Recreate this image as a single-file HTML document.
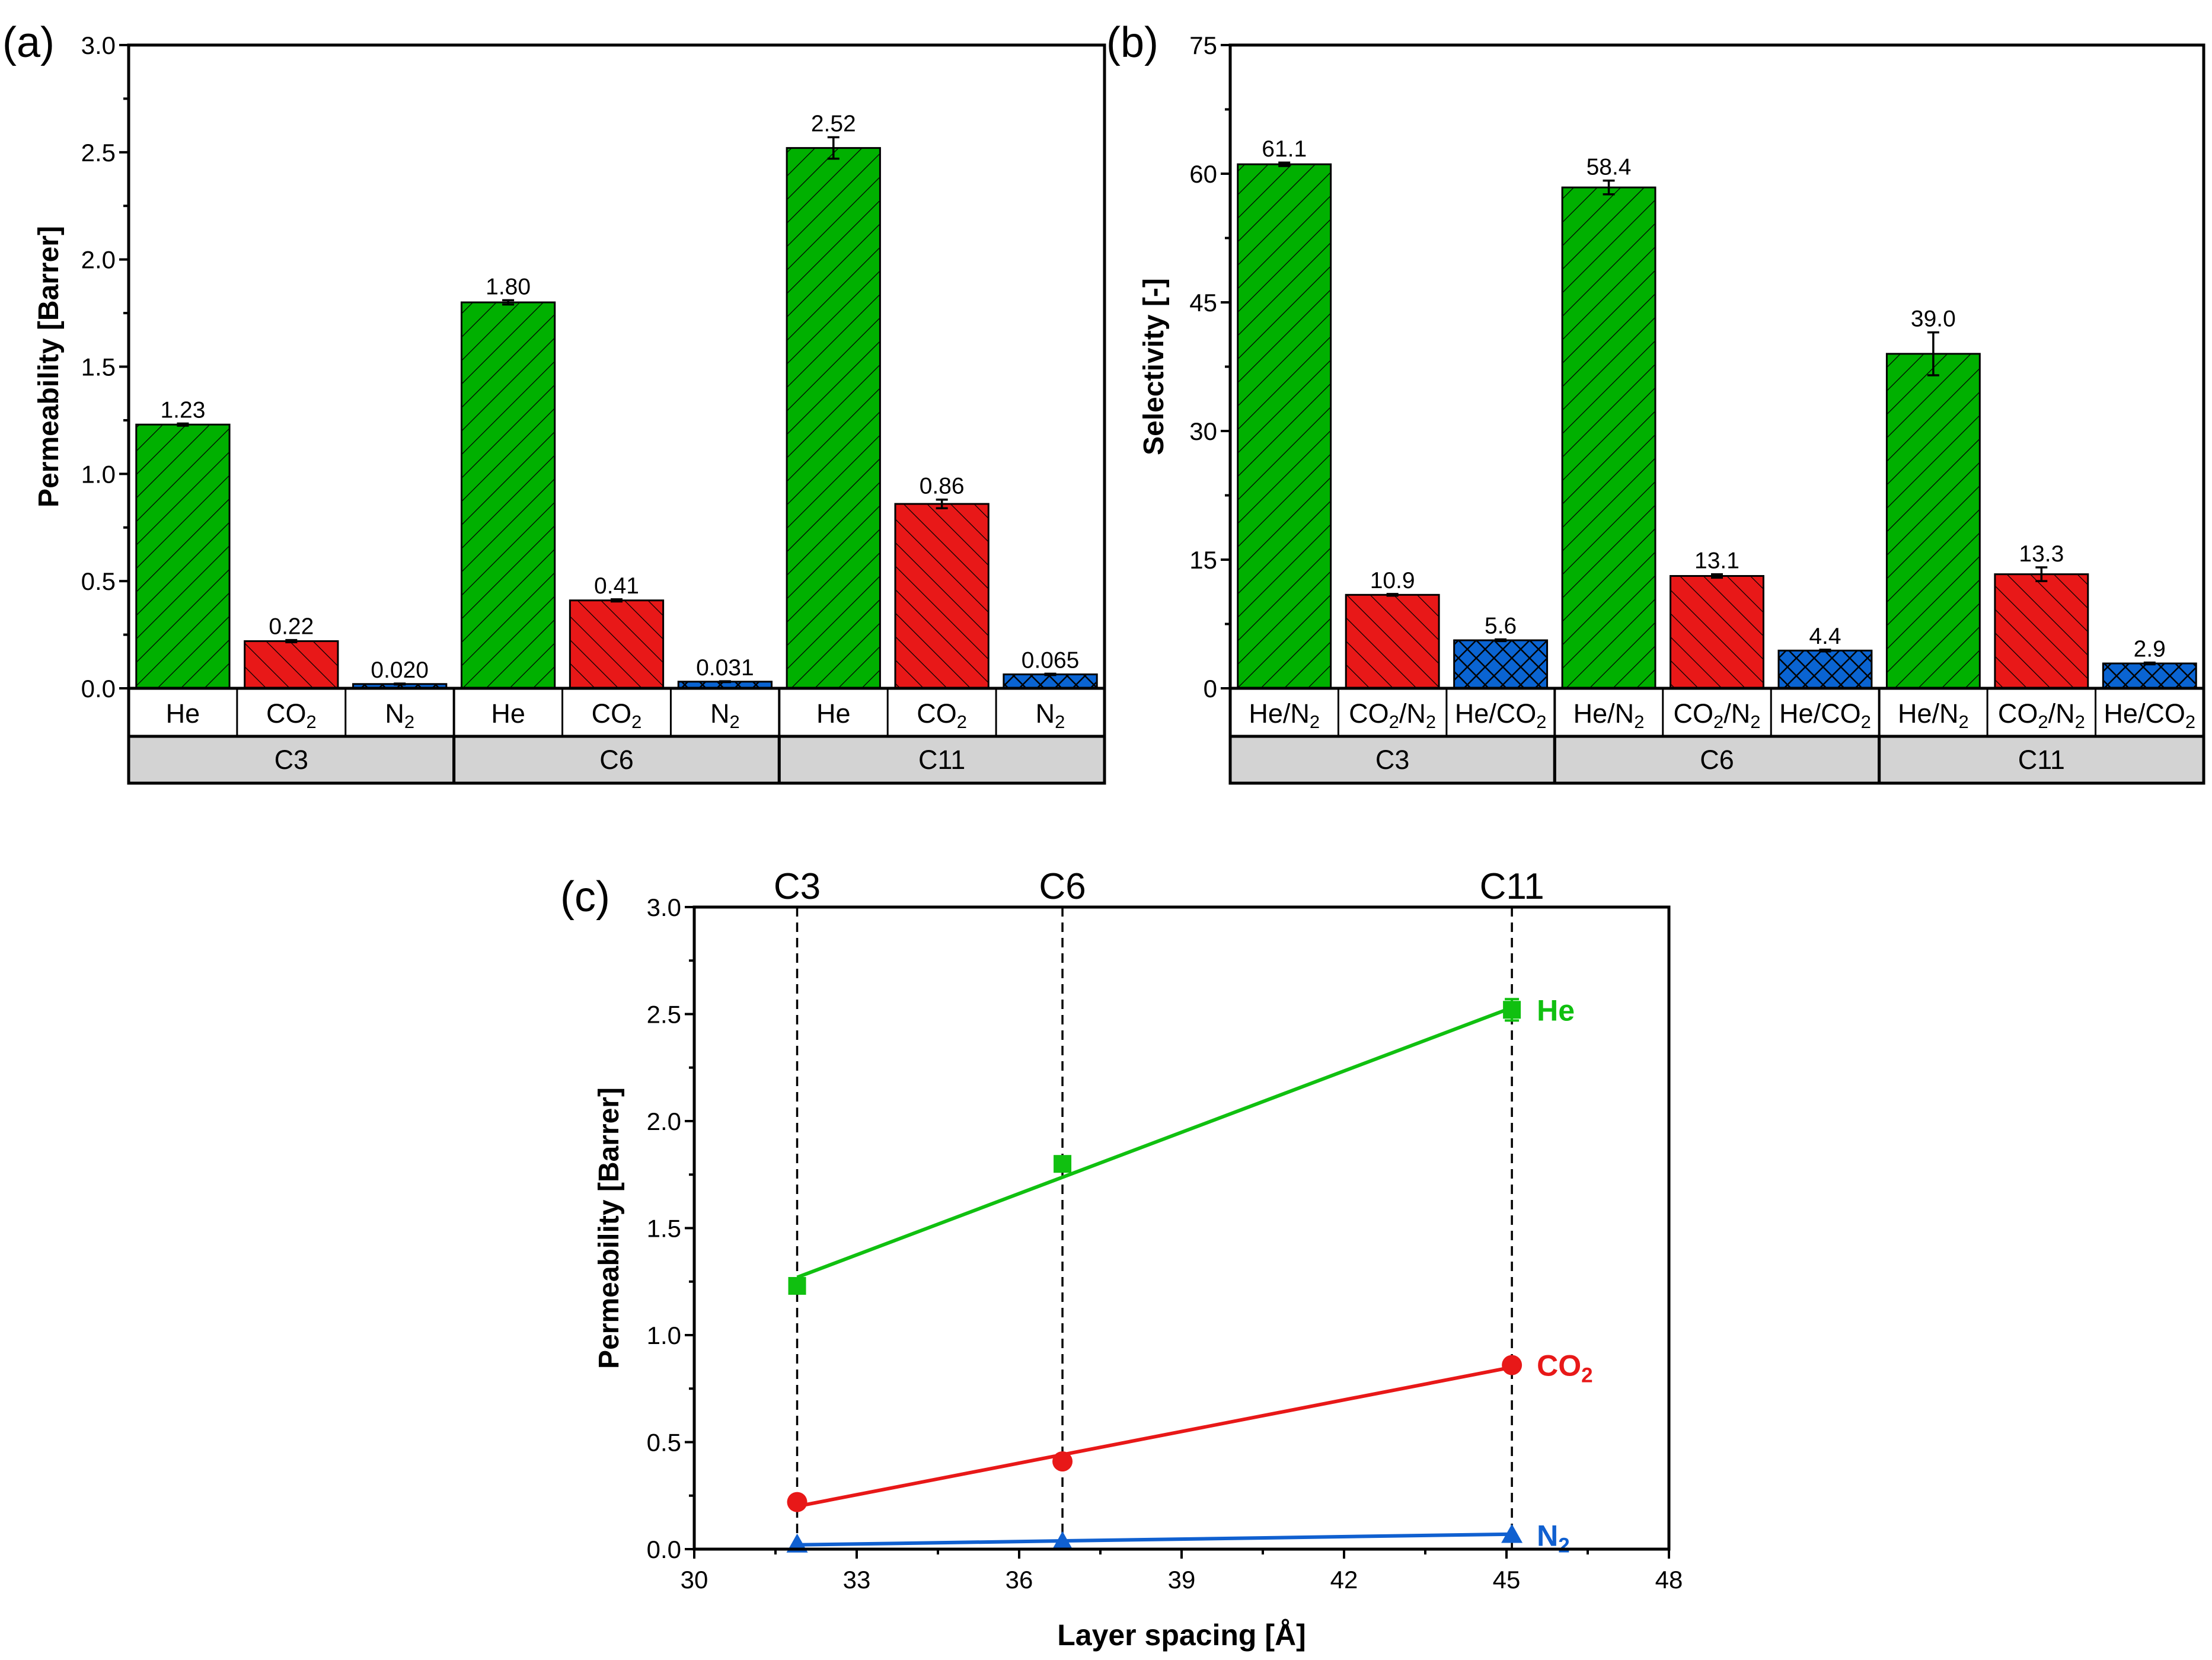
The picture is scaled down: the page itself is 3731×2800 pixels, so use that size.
<!DOCTYPE html>
<html><head><meta charset="utf-8"><style>
html,body{margin:0;padding:0;background:#fff;}
svg{display:block;font-family:"Liberation Sans",sans-serif;}
</style></head><body>
<svg id="fig" width="3731" height="2800" viewBox="0 0 3731 2800" xmlns="http://www.w3.org/2000/svg">
<defs>
<pattern id="pg" patternUnits="userSpaceOnUse" width="28" height="28" patternTransform="rotate(45)"><rect width="28" height="28" fill="#00B000"/><line x1="0" y1="0" x2="0" y2="28" stroke="#000" stroke-width="2.5"/></pattern>
<pattern id="pr" patternUnits="userSpaceOnUse" width="28" height="28" patternTransform="rotate(-45)"><rect width="28" height="28" fill="#E81818"/><line x1="0" y1="0" x2="0" y2="28" stroke="#000" stroke-width="2.5"/></pattern>
<pattern id="pb" patternUnits="userSpaceOnUse" width="30" height="30"><rect width="30" height="30" fill="#0A64D2"/><path d="M0 0L30 30M30 0L0 30" stroke="#000" stroke-width="2.5"/></pattern>
</defs>
</svg>
<script>
const NS='http://www.w3.org/2000/svg';
const svg=document.getElementById('fig');
function el(tag,attrs,parent,text){const e=document.createElementNS(NS,tag);for(const k in attrs)e.setAttribute(k,attrs[k]);if(text!==undefined)e.textContent=text;(parent||svg).appendChild(e);return e;}

// Data panel (a)
const groupsA=['C3','C6','C11'];
const gasA=['He','CO2','N2'];
const permHe=[1.23,1.80,2.52];
const permCO2=[0.22,0.41,0.86];
const permN2=[0.020,0.031,0.065];
const errHe=[0.005,0.01,0.05];
const errCO2=[0.005,0.005,0.02];
const errN2=[0.002,0.002,0.003];
const labHe=['1.23','1.80','2.52'];
const labCO2=['0.22','0.41','0.86'];
const labN2=['0.020','0.031','0.065'];
const ticksA=['0.0','0.5','1.0','1.5','2.0','2.5','3.0'];
// Data panel (b)
const selHeN2=[61.1,58.4,39.0];
const selCO2N2=[10.9,13.1,13.3];
const selHeCO2=[5.6,4.4,2.9];
const errSHeN2=[0.2,0.8,2.5];
const errSCO2N2=[0.1,0.2,0.8];
const errSHeCO2=[0.1,0.1,0.1];
const labSHeN2=['61.1','58.4','39.0'];
const labSCO2N2=['10.9','13.1','13.3'];
const labSHeCO2=['5.6','4.4','2.9'];
const ticksB=['0','15','30','45','60','75'];
// Data panel (c)
const spacing=[31.9,36.8,45.1];
const spacingLabels=['C3','C6','C11'];
const lineHe=[1.23,1.80,2.52];
const lineCO2=[0.22,0.41,0.86];
const lineN2=[0.020,0.031,0.065];
const errLineHe=[0.01,0.01,0.05];
const fitHe=[1.27,2.53];
const fitCO2=[0.20,0.85];
const fitN2=[0.02,0.07];
const xTicksC=['30','33','36','39','42','45','48'];
const yTicksC=['0.0','0.5','1.0','1.5','2.0','2.5','3.0'];

function labelParts(s){
  const out=[];
  const re=/(CO|N)2/g; let last=0,m;
  while((m=re.exec(s))){ if(m.index+m[1].length>last) out.push([s.slice(last,m.index+m[1].length),false]); out.push(['2',true]); last=m.index+m[0].length;}
  if(last<s.length) out.push([s.slice(last),false]);
  return out;
}

function barPanel(o){
  const g=el('g',{});
  const L=o.L,R=o.R,T=o.T,B=o.B;
  const y=v=>B-(v/o.ymax)*(B-T);
  o.ticks.forEach((t,i)=>{const v=parseFloat(t);const yy=y(v);
    const tk=el('line',{x1:L-16,x2:L,y1:yy,y2:yy,stroke:'#000','stroke-width':4},g);
    
    const tl=el('text',{x:L-22,y:yy+15,'text-anchor':'end','font-size':42},g,t);
    
    if(i<o.ticks.length-1){const v2=parseFloat(o.ticks[i+1]);const ym=y((v+v2)/2);el('line',{x1:L-9,x2:L,y1:ym,y2:ym,stroke:'#000','stroke-width':4},g);}
  });
  const gw=(R-L)/3, sw=gw/3, bw=sw*0.86;
  for(let gi=0;gi<3;gi++){
    for(let si=0;si<3;si++){
      const s=o.series[si];const v=s.vals[gi];
      const cx=L+gi*gw+(si+0.5)*sw;
      const r=el('rect',{x:cx-bw/2,y:y(v),width:bw,height:B-y(v),fill:s.fill,stroke:'#000','stroke-width':3},g);
      
      const e=s.err[gi];
      el('path',{d:`M${cx} ${y(v+e)}V${y(v-e)}M${cx-10} ${y(v+e)}H${cx+10}M${cx-10} ${y(v-e)}H${cx+10}`,stroke:'#000','stroke-width':3.5,fill:'none'},g);
      const vl=el('text',{x:cx,y:y(v+e)-10,'text-anchor':'middle','font-size':39},g,s.labs[gi]);
      
      const cl=el('text',{x:cx,y:B+58,'text-anchor':'middle','font-size':45},g);
      labelParts(s.cat).forEach(p=>el('tspan',p[1]?{'baseline-shift':'-30%','font-size':'31'}:{},cl,p[0]));
      
      if(si>0) el('line',{x1:L+gi*gw+si*sw,x2:L+gi*gw+si*sw,y1:B,y2:o.R1,stroke:'#000','stroke-width':3},g);
    }
    const gr=el('rect',{x:L+gi*gw,y:o.R1,width:gw,height:o.R2-o.R1,fill:'#D3D3D3',stroke:'#000','stroke-width':5},g);
    
    const gl=el('text',{x:L+(gi+0.5)*gw,y:o.R1+55,'text-anchor':'middle','font-size':45},g,o.groups[gi]);
    
    if(gi>0) el('line',{x1:L+gi*gw,x2:L+gi*gw,y1:B,y2:o.R1,stroke:'#000','stroke-width':4},g);
  }
  el('rect',{x:L,y:T,width:R-L,height:B-T,fill:'none',stroke:'#000','stroke-width':5},g);
  el('line',{x1:L,x2:R,y1:o.R1,y2:o.R1,stroke:'#000','stroke-width':5},g);
  el('line',{x1:L,x2:L,y1:B,y2:o.R1,stroke:'#000','stroke-width':5},g);
  el('line',{x1:R,x2:R,y1:B,y2:o.R1,stroke:'#000','stroke-width':5},g);
  const yt=el('text',{x:0,y:0,transform:`translate(${o.titleX},${(T+B)/2}) rotate(-90)`,'text-anchor':'middle','font-size':48,'font-weight':'bold'},g,o.title);
  
  const pl=el('text',{x:o.letterX,y:96,'font-size':72},g,o.letter);
  
}

barPanel({name:'panel-a',letter:'(a)',letterX:4,L:217,R:1863,T:76,B:1161,R1:1242,R2:1321,ymax:3,ticks:ticksA,groups:groupsA,title:'Permeability [Barrer]',titleX:98,
  series:[{key:'he',cat:'He',vals:permHe,err:errHe,labs:labHe,fill:'url(#pg)'},
          {key:'co2',cat:'CO2',vals:permCO2,err:errCO2,labs:labCO2,fill:'url(#pr)'},
          {key:'n2',cat:'N2',vals:permN2,err:errN2,labs:labN2,fill:'url(#pb)'}]});
barPanel({name:'panel-b',letter:'(b)',letterX:1866,L:2075,R:3717,T:76,B:1161,R1:1242,R2:1321,ymax:75,ticks:ticksB,groups:groupsA,title:'Selectivity [-]',titleX:1962,
  series:[{key:'he-n2',cat:'He/N2',vals:selHeN2,err:errSHeN2,labs:labSHeN2,fill:'url(#pg)'},
          {key:'co2-n2',cat:'CO2/N2',vals:selCO2N2,err:errSCO2N2,labs:labSCO2N2,fill:'url(#pr)'},
          {key:'he-co2',cat:'He/CO2',vals:selHeCO2,err:errSHeCO2,labs:labSHeCO2,fill:'url(#pb)'}]});

(function(){
  const g=el('g',{});
  const L=1171,R=2815,T=1530,B=2613;
  const x=v=>L+(v-30)/18*(R-L);
  const y=v=>B-v/3*(B-T);
  xTicksC.forEach((t,i)=>{const v=parseFloat(t);const xx=x(v);
    el('line',{x1:xx,x2:xx,y1:B,y2:B+16,stroke:'#000','stroke-width':4},g);
    const tl=el('text',{x:xx,y:B+66,'text-anchor':'middle','font-size':42},g,t);
    
    if(i<xTicksC.length-1){const xm=x(v+1.5);el('line',{x1:xm,x2:xm,y1:B,y2:B+9,stroke:'#000','stroke-width':4},g);}
  });
  yTicksC.forEach((t,i)=>{const v=parseFloat(t);const yy=y(v);
    el('line',{x1:L-16,x2:L,y1:yy,y2:yy,stroke:'#000','stroke-width':4},g);
    const tl=el('text',{x:L-22,y:yy+15,'text-anchor':'end','font-size':42},g,t);
    
    if(i<yTicksC.length-1){const ym=y(v+0.25);el('line',{x1:L-9,x2:L,y1:ym,y2:ym,stroke:'#000','stroke-width':4},g);}
  });
  spacing.forEach((s,i)=>{
    el('line',{x1:x(s),x2:x(s),y1:T,y2:B,stroke:'#000','stroke-width':3.5,'stroke-dasharray':'16,10'},g);
    const tl=el('text',{x:x(s),y:T-14,'text-anchor':'middle','font-size':62},g,spacingLabels[i]);
    
  });
  const ser=[{k:'he',d:lineHe,f:fitHe,c:'#10C010',m:'sq',lab:'He'},{k:'co2',d:lineCO2,f:fitCO2,c:'#E81818',m:'ci',lab:'CO2'},{k:'n2',d:lineN2,f:fitN2,c:'#1060D0',m:'tr',lab:'N2'}];
  ser.forEach(s=>{
    const fl=el('line',{x1:x(spacing[0]),y1:y(s.f[0]),x2:x(spacing[2]),y2:y(s.f[1]),stroke:s.c,'stroke-width':6},g);
    
    s.d.forEach((v,i)=>{const cx=x(spacing[i]),cy=y(v);let m;
      if(s.m==='sq'){ const e=errLineHe[i];
        el('path',{d:`M${cx} ${y(v+e)}V${y(v-e)}M${cx-12} ${y(v+e)}H${cx+12}M${cx-12} ${y(v-e)}H${cx+12}`,stroke:s.c,'stroke-width':4,fill:'none'},g);
        m=el('rect',{x:cx-15,y:cy-15,width:30,height:30,fill:s.c},g);}
      else if(s.m==='ci') m=el('circle',{cx:cx,cy:cy,r:17,fill:s.c},g);
      else m=el('path',{d:`M${cx} ${cy-19}L${cx+18} ${cy+13}L${cx-18} ${cy+13}Z`,fill:s.c},g);
      
    });
    const last=s.d[2];
    const sl=el('text',{x:x(spacing[2])+42,y:y(last)+18,'font-size':50,'font-weight':'bold',fill:s.c},g);
    labelParts(s.lab).forEach(p=>el('tspan',p[1]?{'baseline-shift':'-30%','font-size':'35'}:{},sl,p[0]));
    
  });
  el('rect',{x:L,y:T,width:R-L,height:B-T,fill:'none',stroke:'#000','stroke-width':5},g);
  const yt=el('text',{x:0,y:0,transform:`translate(${1043},${(T+B)/2}) rotate(-90)`,'text-anchor':'middle','font-size':48,'font-weight':'bold'},g,'Permeability [Barrer]');
  
  const xt=el('text',{x:(L+R)/2,y:2775,'text-anchor':'middle','font-size':50,'font-weight':'bold'},g,'Layer spacing [Å]');
  
  const pl=el('text',{x:945,y:1537,'font-size':72},g,'(c)');
  
})();
</script>
</body></html>
